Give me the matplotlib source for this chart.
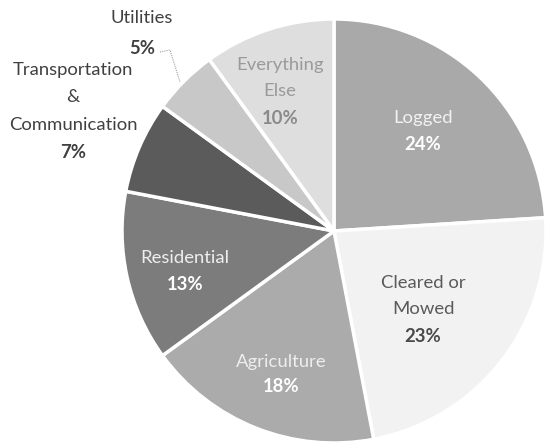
import matplotlib
matplotlib.use("Agg")
import matplotlib.pyplot as plt

# land use categories (clockwise from 12 o'clock)
categories = ["Logged", "Cleared or\nMowed", "Agriculture", "Residential",
              "Transportation\n&\nCommunication", "Utilities", "Everything\nElse"]
shares = [24, 23, 18, 13, 7, 5, 10]
colors = ["#a9a9a9", "#f2f2f2", "#ababab", "#7c7c7c", "#5b5b5b", "#c8c8c8", "#dedede"]

plt.rcParams['font.family'] = ['Lato', 'DejaVu Sans']

W, H = 549, 446
fig = plt.figure(figsize=(W / 100, H / 100), dpi=100)
ax = fig.add_axes([0, 0, 1, 1])

cx, cy, r = 334, H - 231, 212
ax.pie(shares, colors=colors, startangle=90, counterclock=False,
       center=(cx, cy), radius=r, frame=True,
       wedgeprops=dict(edgecolor="white", linewidth=2.5))
ax.set_xlim(0, W)
ax.set_ylim(0, H)
ax.set_aspect("equal")
ax.axis("off")

# label positions in pixels from top-left: (x, y of name line 1, y of pct)
label_pos = [
    (423, 118, 145),
    (423, 283, 336),
    (281, 362, 387),
    (185, 258, 285),
    (73, 70, 152),
    (142, 18, 48),
    (280, 65, 118),
]
name_colors = ["#f2f2f2", "#5a5a5a", "#eeeeee", "#eeeeee", "#404040", "#404040", "#9a9a9a"]
pct_colors = ["#ffffff", "#4a4a4a", "#ffffff", "#ffffff", "#404040", "#404040", "#8a8a8a"]

for name, val, (x, y1, yp), nc, pc in zip(categories, shares, label_pos, name_colors, pct_colors):
    lines = name.split("\n")
    step = (yp - y1) / len(lines) if len(lines) > 1 else (yp - y1)
    for i, ln in enumerate(lines):
        ax.text(x, H - (y1 + i * step), ln, ha="center", va="center",
                fontsize=13.3, color=nc)
    ax.text(x, H - yp, f"{val}%", ha="center", va="center",
            fontsize=13.3, fontweight="bold", color=pc)

# leader line for Utilities
ax.plot([160, 170, 180], [H - 52, H - 50, H - 82], color="#a0a0a0", lw=0.8, ls=(0, (1, 1)))

fig.savefig("out.png", dpi=100)
